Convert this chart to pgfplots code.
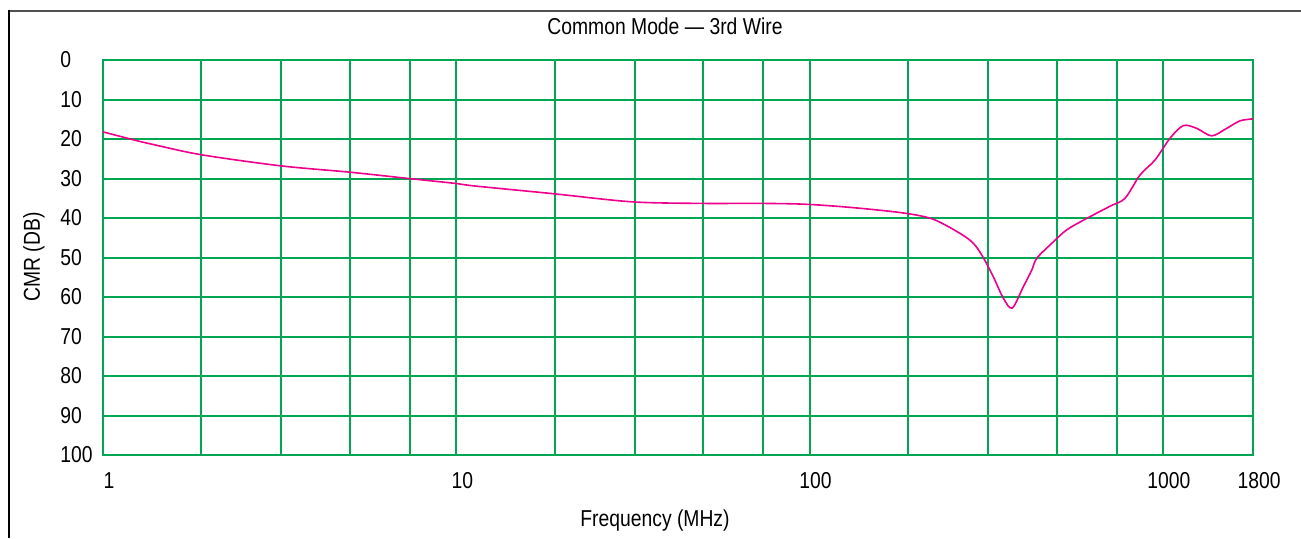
\documentclass[border=0pt]{standalone}
\usepackage{fontspec}
\setmainfont{Liberation Sans}[FakeStretch=0.84]
\usepackage{pgfplots}
\pgfplotsset{compat=1.18}
\definecolor{gridgreen}{RGB}{0,166,81}
\definecolor{curvemag}{RGB}{236,0,140}
\definecolor{framegray}{RGB}{80,80,80}
\begin{document}
\begin{tikzpicture}[x=1pt,y=1pt]
\useasboundingbox (0,0) rectangle (650.5,269);
\begin{axis}[
  at={(51.5pt,41.5pt)}, anchor=south west,
  scale only axis, width=575pt, height=197.5pt,
  xmode=log, xmin=1, xmax=1800, ymin=0, ymax=100, y dir=reverse,
  xtick={1,10,100,1000,1800}, xticklabels={1,10,100,1000,1800},
  minor xtick={1.9,3.2,5,7.4,19,32,50,74,190,320,500,740},
  ytick={0,10,...,100},
  yticklabels={0,10,20,30,40,50,60,70,80,90,100},
  grid=both,
  major grid style={gridgreen, line width=1pt},
  minor grid style={gridgreen, line width=1pt},
  axis line style={gridgreen, line width=1pt},
  major tick length=0pt, minor tick length=0pt,
  font=\fontsize{11.5}{13}\selectfont,
  /pgf/number format/assume math mode=true,
  yticklabel style={anchor=west, inner sep=0pt, xshift=-21.5pt},
  xticklabel style={anchor=north, inner sep=0pt, yshift=-8.5pt, xshift=3pt},
]
\addplot[curvemag, line width=0.8pt, smooth, tension=0.5] coordinates {
(1,18.2)
(1.232,20.3)
(1.373,21.3)
(1.903,24.0)
(3.19,26.8)
(5.0,28.4)
(7.34,30.0)
(9.85,31.2)
(11.3,31.9)
(18.6,33.8)
(31.4,35.9)
(49.2,36.3)
(71.9,36.3)
(96.5,36.5)
(130,37.3)
(183.5,38.7)
(223.6,40.3)
(266.7,43.9)
(290.8,46.4)
(309.3,49.8)
(331.3,54.9)
(353.6,60.3)
(374.7,62.8)
(402.8,57.4)
(425.5,53.2)
(439.6,50.2)
(484.9,46.4)
(534.5,43.0)
(609,40.1)
(708.9,37.0)
(781.6,35.0)
(861.9,29.1)
(950.4,25.3)
(1048,19.8)
(1143,16.6)
(1247,17.3)
(1375,19.2)
(1516,17.3)
(1654,15.4)
(1800,14.9)
};
\end{axis}
\draw[framegray, line width=1pt] (4.5,263.75) -- (650.5,263.75);
\draw[black, line width=0.7pt] (4.5,264.25) -- (4.5,0);
\node[font=\fontsize{11.5}{13}\selectfont] at (332.5,256) {Common Mode — 3rd Wire};
\node[font=\fontsize{11.5}{13}\selectfont] at (327.5,8.5) {Frequency (MHz)};
\node[font=\fontsize{11.5}{13}\selectfont, rotate=90] at (17,140.5) {CMR (DB)};
\end{tikzpicture}
\end{document}
